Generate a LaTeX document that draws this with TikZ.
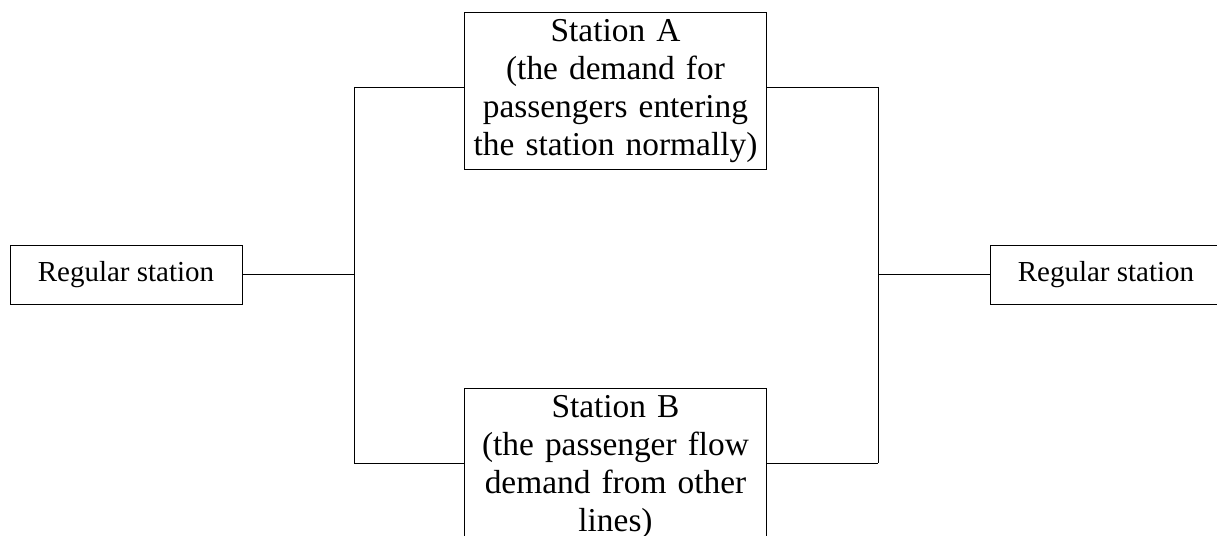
\documentclass[tikz,border=0pt]{standalone}
\usepackage{fontspec}
\setmainfont{Liberation Serif}
\usepackage{tikz}
\usetikzlibrary{positioning}

\begin{document}
\begin{tikzpicture}[line width=0.5pt,
  regbox/.style={draw, minimum width=4.64cm, minimum height=1.18cm, font=\fontsize{16.5}{19}\selectfont},
  stbox/.style={draw, align=center, inner xsep=2pt, inner ysep=4pt, text width=5.9cm,
    minimum width=6.0cm, anchor=north, font=\fontsize{19}{21.6}\selectfont}]
\useasboundingbox (0,0) rectangle (24.34,10.72);
\node[regbox] (regL) at (2.52,5.23) {Regular station};
\node[regbox] (regR) at (22.12,5.23) {Regular station};
\node[stbox] (stA) at (12.31,10.48)
  {Station A\\(the demand for\\passengers entering\\the station normally)};
\node[stbox] (stB) at (12.31,2.96)
  {Station B\\(the passenger flow\\demand from other\\lines)};
\coordinate (jLt) at (7.08,8.98);
\coordinate (jLb) at (7.08,1.46);
\coordinate (jRt) at (17.56,8.98);
\coordinate (jRb) at (17.56,1.46);
\draw (regL.east) -- (regL.east -| jLt);
\draw (jLt) -- (jLb);
\draw (jLt) -- (jLt -| stA.west);
\draw (jLb) -- (jLb -| stB.west);
\draw (jRt -| stA.east) -- (jRt);
\draw (jRb -| stB.east) -- (jRb);
\draw (jRt) -- (jRb);
\draw (regR.west -| jRt) -- (regR.west);
\end{tikzpicture}
\end{document}
